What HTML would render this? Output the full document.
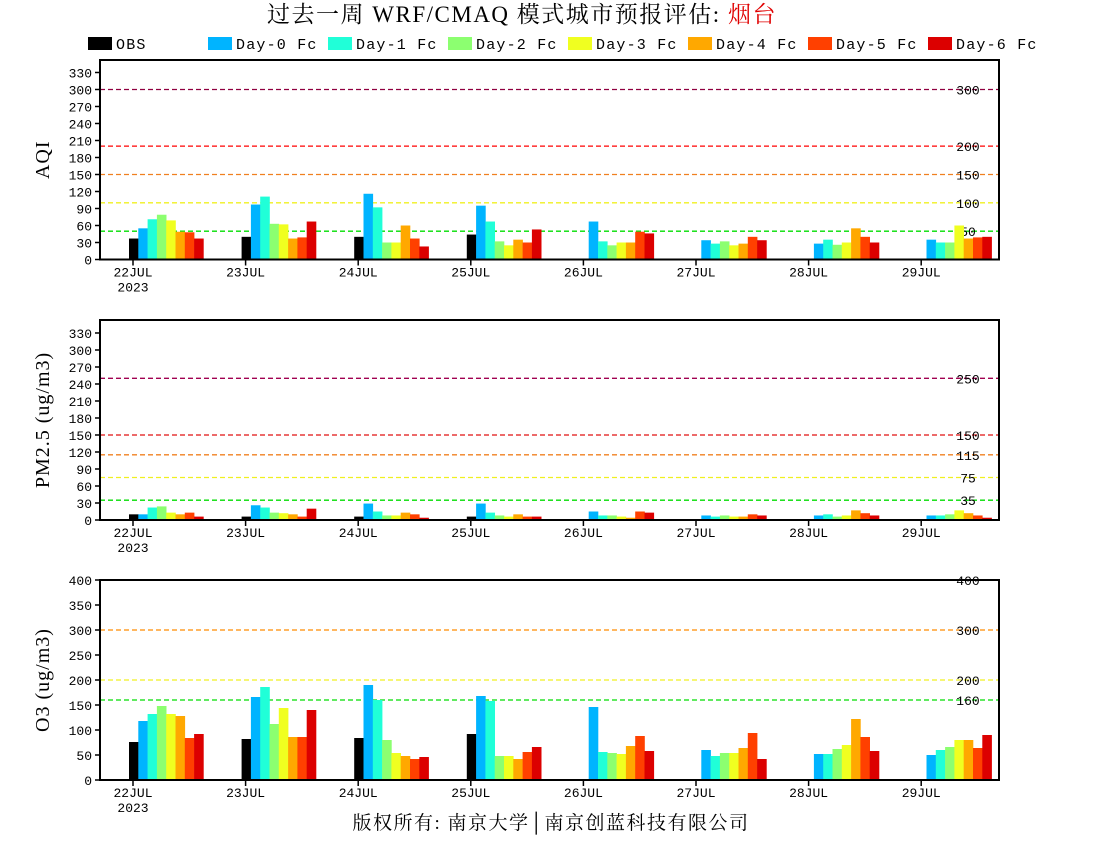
<!DOCTYPE html>
<html><head><meta charset="utf-8">
<style>
body{margin:0;background:#fff;}
svg{display:block;}
</style></head>
<body>
<svg id="chart" width="1100" height="850" xmlns="http://www.w3.org/2000/svg">
<text x="522" y="22" text-anchor="middle" font-family="Liberation Serif, Noto Serif CJK SC, serif" font-size="23" letter-spacing="1.5">过去一周 WRF/CMAQ 模式城市预报评估: <tspan fill="#e00000">烟台</tspan></text>
<g id="legend"></g>
<g id="panels"></g>
<text x="551" y="829" text-anchor="middle" font-family="Liberation Serif, Noto Serif CJK SC, serif" font-size="19" letter-spacing="1.5">版权所有: 南京大学│南京创蓝科技有限公司</text>
</svg>
<script>
const days = ["22JUL","23JUL","24JUL","25JUL","26JUL","27JUL","28JUL","29JUL"];
const seriesNames = ["OBS","Day-0 Fc","Day-1 Fc","Day-2 Fc","Day-3 Fc","Day-4 Fc","Day-5 Fc","Day-6 Fc"];
const seriesColors = ["#000000","#00b4ff","#20ffd8","#8cff70","#f0ff20","#ffa800","#ff4000","#dc0000"];
const aqiValues = [
 [37,55,71,79,69,49,48,37],
 [40,97,111,63,62,37,39,67],
 [40,116,92,30,30,60,37,23],
 [44,95,67,32,25,35,30,53],
 [null,67,32,25,30,30,49,46],
 [null,34,28,32,25,28,40,34],
 [null,28,35,26,30,55,40,30],
 [null,35,30,30,60,37,39,40]
];
const pm25Values = [
 [10,10,22,24,13,10,13,6],
 [6,26,22,13,12,10,6,20],
 [6,29,15,8,8,13,10,4],
 [6,29,13,8,6,10,6,6],
 [null,15,8,8,6,4,15,13],
 [null,8,6,8,6,6,10,8],
 [null,8,10,6,8,17,12,8],
 [null,8,8,10,17,12,8,4]
];
const o3Values = [
 [76,118,132,148,132,128,84,92],
 [82,166,186,112,144,86,86,140],
 [84,190,160,80,54,48,42,46],
 [92,168,158,48,48,42,56,66],
 [null,146,56,54,52,68,88,58],
 [null,60,48,54,54,64,94,42],
 [null,52,52,62,70,122,86,58],
 [null,50,60,66,80,80,64,90]
];
const aqiTicks = [0,30,60,90,120,150,180,210,240,270,300,330];
const pmTicks = [0,30,60,90,120,150,180,210,240,270,300,330];
const o3Ticks = [0,50,100,150,200,250,300,350,400];
const aqiThresholds = [300,200,150,100,50];
const pmThresholds = [250,150,115,75,35];
const o3Thresholds = [400,300,200,160];
const aqiThrColors = ["#900040","#ff0000","#f08020","#f0f020","#00dd00"];
const pmThrColors = ["#a00050","#e01010","#f08020","#f0f020","#00dd00"];
const o3ThrColors = ["#ff0000","#ff8c00","#f0f020","#00dd00"];

const NS="http://www.w3.org/2000/svg";
function mk(tag,attrs,parent){const e=document.createElementNS(NS,tag);for(const k in attrs)e.setAttribute(k,attrs[k]);parent.appendChild(e);return e;}
const legend=document.getElementById('legend');
seriesNames.forEach((n,i)=>{
  const x=88+i*120;
  const r=mk('rect',{x:x,y:37,width:24,height:13,fill:seriesColors[i]},legend);
  
  
  const t=mk('text',{x:x+28,y:49,'font-family':'Liberation Mono, monospace','font-size':'15','letter-spacing':'1.2'},legend);
  
  
  t.textContent=n;
});
const L=100,R=999,dayX0=133,daySp=112.6,barW=9.3;
function panel(name,top,bottom,pxPerUnit,ticks,thr,thrColors,values,ylabel){
  const g=mk('g',{},document.getElementById('panels'));
  
  
  const y=v=>bottom-v*pxPerUnit;
  const xDay=i=>dayX0+i*daySp;
  thr.forEach((v,i)=>{
    const ln=mk('line',{x1:L,x2:R,y1:y(v),y2:y(v),stroke:thrColors[i],'stroke-width':1.3,'stroke-dasharray':'5,3'},g);
    
    
    const t=mk('text',{x:968,y:y(v)+5,'text-anchor':'middle','font-family':'Liberation Mono, monospace','font-size':'13'},g);
    
    
    t.textContent=v;
  });
  values.forEach((arr,d)=>{
    arr.forEach((v,s)=>{
      if(v==null)return;
      const b=mk('rect',{x:xDay(d)-4+s*barW,y:y(v),width:barW+0.3,height:v*pxPerUnit,fill:seriesColors[s]},g);
      
      
    });
  });
  const fr=mk('rect',{x:L,y:top,width:R-L,height:bottom-top,fill:'none',stroke:'#000','stroke-width':2},g);
  
  
  ticks.forEach(v=>{
    mk('line',{x1:L-5,x2:L,y1:y(v),y2:y(v),stroke:'#000','stroke-width':1.5},g);
    const t=mk('text',{x:L-8,y:y(v)+5,'text-anchor':'end','font-family':'Liberation Mono, monospace','font-size':'13'},g);
    
    
    t.textContent=v;
  });
  days.forEach((dname,i)=>{
    mk('line',{x1:xDay(i),x2:xDay(i),y1:bottom,y2:bottom+6,stroke:'#000','stroke-width':1.5},g);
    const t=mk('text',{x:xDay(i),y:bottom+17,'text-anchor':'middle','font-family':'Liberation Mono, monospace','font-size':'13'},g);
    
    
    t.textContent=dname;
  });
  const yr=mk('text',{x:xDay(0),y:bottom+32,'text-anchor':'middle','font-family':'Liberation Mono, monospace','font-size':'13'},g);
  
  
  yr.textContent='2023';
  const cy=(top+bottom)/2;
  const yl=mk('text',{x:0,y:0,transform:'translate(49,'+cy+') rotate(-90)','text-anchor':'middle','font-family':'Liberation Serif, serif','font-size':'20','letter-spacing':'1'},g);
  
  
  yl.textContent=ylabel;
}
panel('aqi',60,259.5,0.5667,aqiTicks,aqiThresholds,aqiThrColors,aqiValues,'AQI');
panel('pm25',320,520,0.5667,pmTicks,pmThresholds,pmThrColors,pm25Values,'PM2.5 (ug/m3)');
panel('o3',580,780,0.5,o3Ticks,o3Thresholds,o3ThrColors,o3Values,'O3 (ug/m3)');
</script>
</body></html>
